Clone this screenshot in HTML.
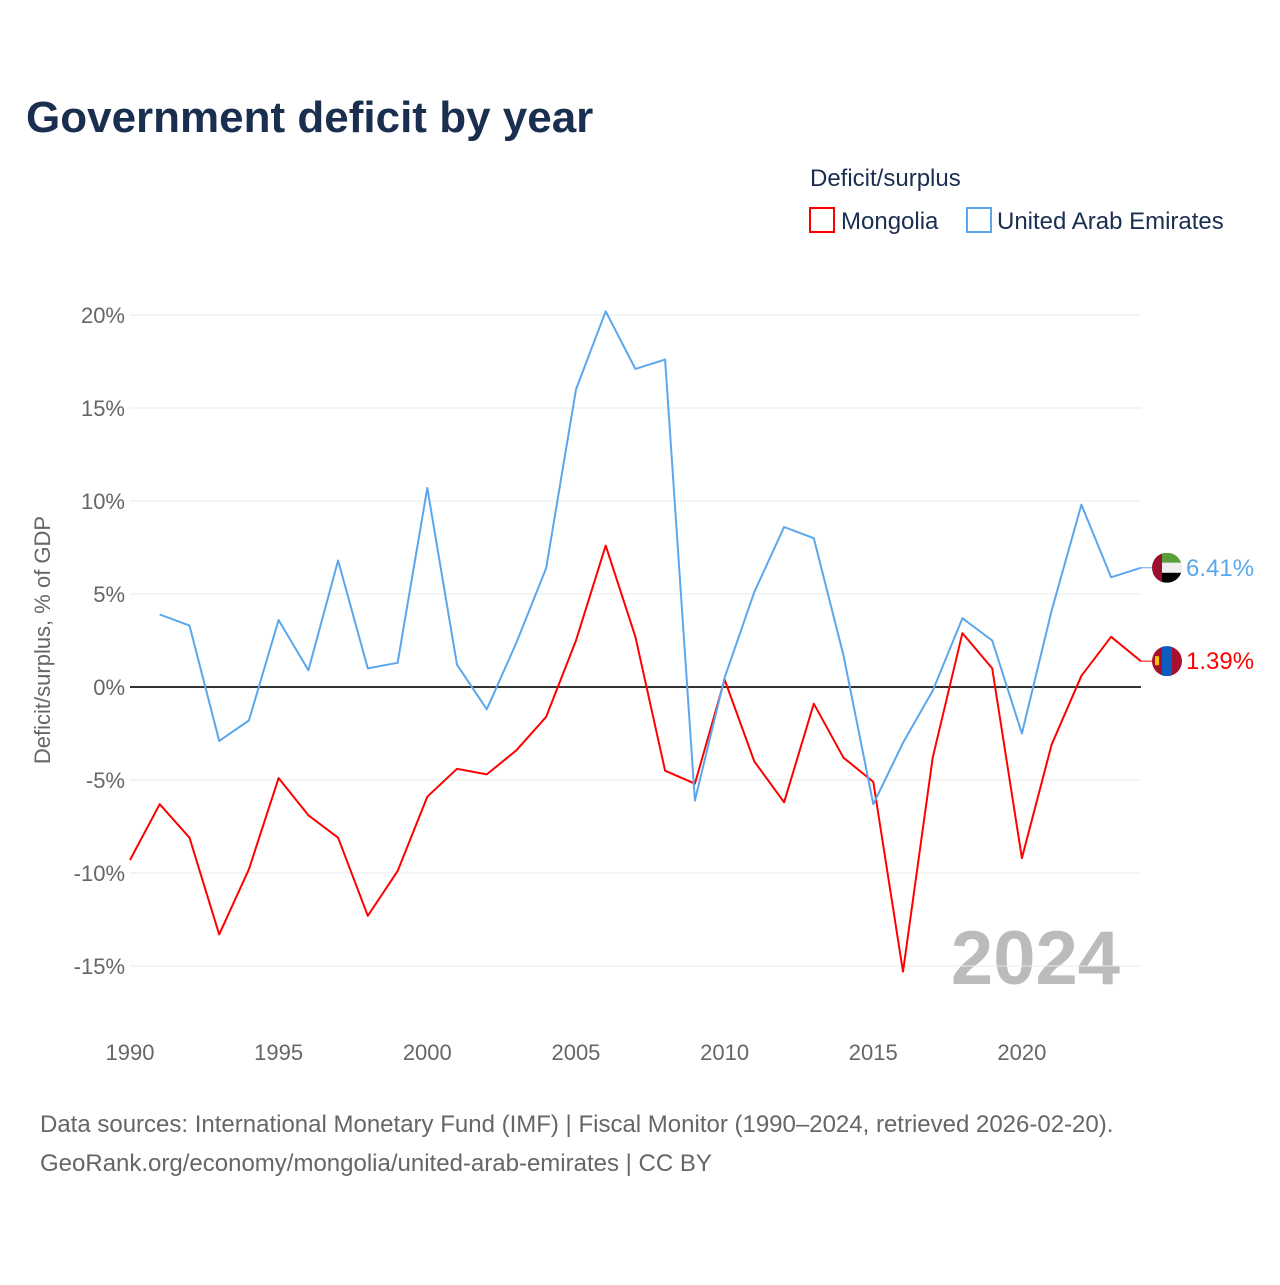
<!DOCTYPE html>
<html><head><meta charset="utf-8"><style>
body{margin:0;background:#fff;font-family:"Liberation Sans",sans-serif}
svg text{font-family:"Liberation Sans",sans-serif}
</style></head><body>
<svg id="c" width="1280" height="1280" xmlns="http://www.w3.org/2000/svg">
<text x="26" y="132" font-size="44" font-weight="bold" fill="#1a2e4f">Government deficit by year</text>
<text x="810" y="186" font-size="24" fill="#1a2e4f">Deficit/surplus</text>
<g><rect x="810" y="208" width="24" height="24" fill="none" stroke="#f00" stroke-width="2"/><text x="841" y="229" font-size="24" fill="#1a2e4f">Mongolia</text></g>
<g><rect x="967" y="208" width="24" height="24" fill="none" stroke="#5aa7ec" stroke-width="2"/><text x="997" y="229" font-size="24" fill="#1a2e4f">United Arab Emirates</text></g>
<text transform="translate(50,640) rotate(-90)" text-anchor="middle" font-size="22" fill="#666">Deficit/surplus, % of GDP</text>
<text x="1120" y="984" text-anchor="end" font-size="76" font-weight="bold" fill="#bbb">2024</text>
<g id="grid"></g><g id="lines"></g>
<text x="40" y="1132" font-size="24" fill="#666">Data sources: International Monetary Fund (IMF) | Fiscal Monitor (1990–2024, retrieved 2026-02-20).</text>
<text x="40" y="1171" font-size="24" fill="#666">GeoRank.org/economy/mongolia/united-arab-emirates | CC BY</text>
</svg>
<script>
const years=[1990,1991,1992,1993,1994,1995,1996,1997,1998,1999,2000,2001,2002,2003,2004,2005,2006,2007,2008,2009,2010,2011,2012,2013,2014,2015,2016,2017,2018,2019,2020,2021,2022,2023,2024];
const mongolia=[-9.3,-6.3,-8.1,-13.3,-9.8,-4.9,-6.9,-8.1,-12.3,-9.9,-5.9,-4.4,-4.7,-3.4,-1.6,2.5,7.6,2.7,-4.5,-5.2,0.4,-4.0,-6.2,-0.9,-3.8,-5.1,-15.3,-3.8,2.9,1.0,-9.2,-3.1,0.6,2.7,1.39];
const uae=[null,3.9,3.3,-2.9,-1.8,3.6,0.9,6.8,1.0,1.3,10.7,1.2,-1.2,2.4,6.4,16.0,20.2,17.1,17.6,-6.1,0.5,5.1,8.6,8.0,1.7,-6.3,-3.0,-0.2,3.7,2.5,-2.5,4.1,9.8,5.9,6.41];
const yTicks=[20,15,10,5,0,-5,-10,-15];
const xTicks=[1990,1995,2000,2005,2010,2015,2020];
const X=y=>130+(y-1990)*29.73, Y=v=>687-v*18.6;
const NS="http://www.w3.org/2000/svg";
function mk(t,a,p,txt){const e=document.createElementNS(NS,t);for(const k in a)e.setAttribute(k,a[k]);if(txt!=null)e.textContent=txt;p.appendChild(e);return e;}
const g=document.getElementById('grid'),L=document.getElementById('lines');
yTicks.forEach(v=>{
const l=mk('line',{x1:130,x2:1141,y1:Y(v),y2:Y(v),stroke:v===0?'#333':'#e8e8e8','stroke-width':v===0?2:1},g);


const t=mk('text',{x:125,y:Y(v)+8,'text-anchor':'end','font-size':22,fill:'#666'},g,v+'%');


});
xTicks.forEach(y=>{
const t=mk('text',{x:X(y),y:1060,'text-anchor':'middle','font-size':22,fill:'#666'},g,String(y));


});
function line(arr,col,name){
let d='';arr.forEach((v,i)=>{if(v==null)return;d+=(d?'L':'M')+X(years[i]).toFixed(1)+','+Y(v).toFixed(1);});
const p=mk('path',{d:d,fill:'none',stroke:col,'stroke-width':2,'stroke-linejoin':'round'},L);


const last=arr[arr.length-1],ly=Y(last);
const c=mk('line',{x1:X(2024),x2:1155,y1:ly,y2:ly,stroke:col,'stroke-width':1},L);


const t=mk('text',{x:1186,y:ly+8,'font-size':24,fill:col},L,last.toFixed(2)+'%');


return ly;
}
const my=line(mongolia,'#f00','mongolia-line');
const uy=line(uae,'#5aa7ec','uae-line');
// flags
const fu=mk('g',{},L);


mk('clipPath',{id:'cu'},fu).appendChild(Object.assign(document.createElementNS(NS,'circle'),{}));
fu.querySelector('clipPath circle').setAttribute('cx',1167);fu.querySelector('clipPath circle').setAttribute('cy',uy);fu.querySelector('clipPath circle').setAttribute('r',15);
const gu=mk('g',{'clip-path':'url(#cu)'},fu);
mk('rect',{x:1152,y:uy-15,width:30,height:10,fill:'#5a9e3a'},gu);
mk('rect',{x:1152,y:uy-5,width:30,height:10,fill:'#eee'},gu);
mk('rect',{x:1152,y:uy+5,width:30,height:10,fill:'#000'},gu);
mk('rect',{x:1152,y:uy-15,width:10,height:30,fill:'#9b1030'},gu);
const fm=mk('g',{},L);


const cp=mk('clipPath',{id:'cm'},fm);mk('circle',{cx:1167,cy:my,r:15},cp);
const gm=mk('g',{'clip-path':'url(#cm)'},fm);
mk('rect',{x:1152,y:my-15,width:30,height:30,fill:'#a8102e'},gm);
mk('rect',{x:1162,y:my-15,width:10,height:30,fill:'#0e5cbf'},gm);
mk('rect',{x:1155,y:my-5,width:4,height:9,fill:'#f5c400'},gm);
</script>
</body></html>
